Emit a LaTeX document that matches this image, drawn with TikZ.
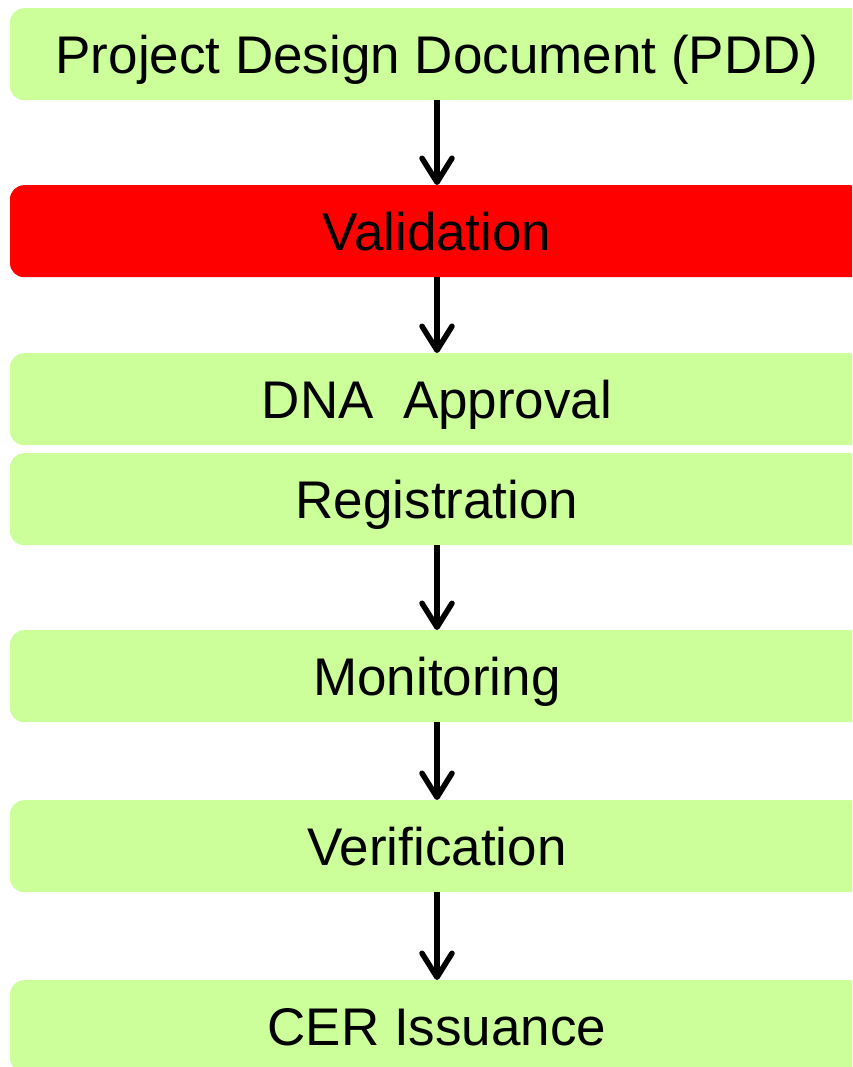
\documentclass[tikz,border=0pt]{standalone}
\usepackage{fontspec}
\setmainfont{Liberation Sans}
\usetikzlibrary{arrows.meta}
\definecolor{boxgreen}{HTML}{CCFF99}
\definecolor{boxred}{HTML}{FF0000}
\begin{document}
\begin{tikzpicture}[x=1pt,y=-1pt,
  stage/.style={rounded corners=14pt, fill=boxgreen, minimum width=854pt, minimum height=92pt,
    inner sep=0pt, font=\fontsize{53}{60}\selectfont, text height=38pt, text depth=0pt, anchor=north},
  hot/.style={stage, fill=boxred},
  flow/.style={line width=5.5pt, -{Straight Barb[length=24pt,width=30pt,line width=5.5pt,round]}}]
\useasboundingbox (0,0) rectangle (852,1067);
\clip (0,0) rectangle (852,1067);
\node[stage] (pdd) at (437,8) {Project Design Document (PDD)};
\node[hot] (val) at (437,185) {Validation};
\node[stage] (dna) at (437,353) {DNA\ \ Approval};
\node[stage] (reg) at (437,453) {Registration};
\node[stage] (mon) at (437,630) {Monitoring};
\node[stage] (ver) at (437,800) {Verification};
\node[stage] (cer) at (437,980) {CER Issuance};
\draw[flow] (pdd.south) -- (val.north);
\draw[flow] (val.south) -- (dna.north);
\draw[flow] (reg.south) -- (mon.north);
\draw[flow] (mon.south) -- (ver.north);
\draw[flow] (ver.south) -- (cer.north);
\end{tikzpicture}
\end{document}
